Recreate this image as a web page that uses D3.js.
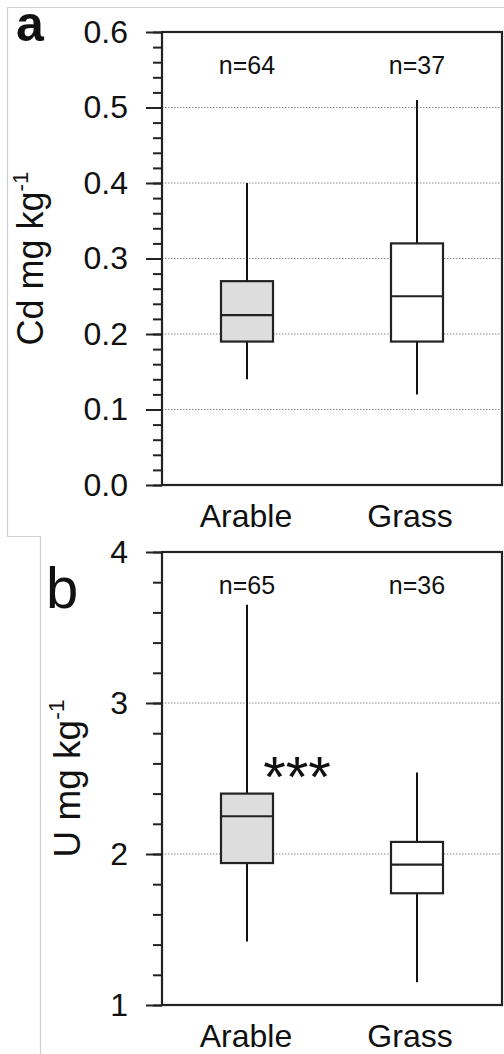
<!DOCTYPE html>
<html>
<head>
<meta charset="utf-8">
<script src="https://cdn.jsdelivr.net/npm/d3@7"></script>
<style>
  body { margin: 0; background: #fff; }
  svg text { font-family: "Liberation Sans", Arial, sans-serif; fill: #111; }
  .grid line { stroke: #888; stroke-dasharray: 1.5,1.5; stroke-width: 1; }
</style>
</head>
<body>
<svg width="504" height="1054"></svg>
<script>
const groups = ["Arable", "Grass"];
const boxFills = ["#dddddd", "#ffffff"];

// panel a: Cd
const cdN = [64, 37];
const cdLow = [0.14, 0.12];
const cdQ1 = [0.19, 0.19];
const cdMedian = [0.225, 0.25];
const cdQ3 = [0.27, 0.32];
const cdHigh = [0.40, 0.51];
const cdTicks = [0, 0.1, 0.2, 0.3, 0.4, 0.5, 0.6];
const cdGrid = [0.1, 0.2, 0.3, 0.4, 0.5];

// panel b: U
const uN = [65, 36];
const uLow = [1.42, 1.15];
const uQ1 = [1.94, 1.74];
const uMedian = [2.25, 1.93];
const uQ3 = [2.40, 2.08];
const uHigh = [3.65, 2.54];
const uTicks = [1, 2, 3, 4];
const uGrid = [2, 3];

const svg = d3.select("svg");

// faint figure borders
const border = svg.append("g").attr("stroke", "#cfcfcf").attr("stroke-width", 1.2).attr("fill", "none");
border.append("path").attr("d", "M504,7.5H7.5V536.5H40.5V1054");

const x = d3.scaleBand().domain(groups).range([162, 502]);
const boxW = 52;

function panel(opts) {
  const y = d3.scaleLinear().domain(opts.domain).range(opts.range);
  const g = svg.append("g");

  // gridlines
  g.append("g").attr("class", "grid")
    .selectAll("line").data(opts.grid).join("line")
    .attr("x1", 162).attr("x2", 502)
    .attr("y1", d => y(d)).attr("y2", d => y(d));

  // minor ticks
  g.append("g").attr("transform", "translate(162,0)")
    .call(d3.axisLeft(y).tickValues(opts.minor).tickSize(9).tickSizeOuter(0).tickFormat(""))
    .call(a => a.select(".domain").remove())
    .call(a => a.selectAll("line").attr("stroke", "#222").attr("stroke-width", 2));

  // major ticks
  g.append("g").attr("transform", "translate(162,0)")
    .call(d3.axisLeft(y).tickValues(opts.ticks).tickSize(16).tickSizeOuter(0)
      .tickPadding(18).tickFormat(opts.format))
    .call(a => a.select(".domain").remove())
    .call(a => a.selectAll("line").attr("stroke", "#222").attr("stroke-width", 2))
    .call(a => a.selectAll("text").attr("font-size", 32).attr("fill", "#111")
      .attr("font-family", "Liberation Sans, Arial, sans-serif"));

  // frame
  g.append("rect")
    .attr("x", 162).attr("y", y(opts.domain[1]))
    .attr("width", 340).attr("height", y(opts.domain[0]) - y(opts.domain[1]))
    .attr("fill", "none").attr("stroke", "#222").attr("stroke-width", 2.2);

  // boxes
  const items = groups.map((k, i) => ({
    k, i, lo: opts.low[i], q1: opts.q1[i], med: opts.median[i], q3: opts.q3[i], hi: opts.high[i], n: opts.n[i]
  }));
  const bx = g.selectAll(".box").data(items).join("g").attr("class", "box");
  const cx = d => x(d.k) + x.bandwidth() / 2;

  bx.append("line")
    .attr("x1", cx).attr("x2", cx)
    .attr("y1", d => y(d.hi)).attr("y2", d => y(d.q3))
    .attr("stroke", "#111").attr("stroke-width", 2);
  bx.append("line")
    .attr("x1", cx).attr("x2", cx)
    .attr("y1", d => y(d.q1)).attr("y2", d => y(d.lo))
    .attr("stroke", "#111").attr("stroke-width", 2);
  bx.append("rect")
    .attr("x", d => cx(d) - boxW / 2).attr("width", boxW)
    .attr("y", d => y(d.q3)).attr("height", d => y(d.q1) - y(d.q3))
    .attr("fill", d => boxFills[d.i]).attr("stroke", "#222").attr("stroke-width", 2.2);
  bx.append("line")
    .attr("x1", d => cx(d) - boxW / 2).attr("x2", d => cx(d) + boxW / 2)
    .attr("y1", d => y(d.med)).attr("y2", d => y(d.med))
    .attr("stroke", "#222").attr("stroke-width", 2.2);

  // n labels
  bx.append("text")
    .attr("x", cx).attr("y", opts.nY)
    .attr("text-anchor", "middle").attr("font-size", 25)
    .text(d => "n=" + d.n);

  // category labels
  bx.append("text")
    .attr("x", d => cx(d) - (d.i === 1 ? 7 : 1)).attr("y", y(opts.domain[0]) + 42)
    .attr("text-anchor", "middle").attr("font-size", 32)
    .text(d => d.k);

  // y title
  const t = g.append("text")
    .attr("transform", `translate(${opts.titleX},${(opts.range[0] + opts.range[1]) / 2}) rotate(-90)`)
    .attr("text-anchor", "middle").attr("font-size", opts.titleSize);
  t.append("tspan").text(opts.title);
  t.append("tspan").attr("font-size", opts.titleSize * 0.62).attr("dy", -opts.titleSize * 0.42).text("-1");

  return y;
}

panel({
  domain: [0, 0.6], range: [485, 32],
  ticks: cdTicks, minor: d3.range(0, 61, 2).map(v => v / 100), grid: cdGrid,
  format: d3.format(".1f"),
  low: cdLow, q1: cdQ1, median: cdMedian, q3: cdQ3, high: cdHigh, n: cdN,
  nY: 74, title: "Cd mg kg", titleX: 43, titleSize: 36
});

panel({
  domain: [1, 4], range: [1005, 552],
  ticks: uTicks, minor: d3.range(10, 41, 2).map(v => v / 10), grid: uGrid,
  format: d3.format("d"),
  low: uLow, q1: uQ1, median: uMedian, q3: uQ3, high: uHigh, n: uN,
  nY: 594, title: "U mg kg", titleX: 80, titleSize: 37
});

// panel letters and significance mark
svg.append("text").attr("x", 16).attr("y", 41).attr("font-size", 50).attr("font-weight", "bold").text("a");
svg.append("text").attr("x", 46).attr("y", 608).attr("font-size", 58).text("b");
svg.append("text").attr("x", 297).attr("y", 797).attr("text-anchor", "middle").attr("font-size", 58).text("***");
</script>
</body>
</html>
